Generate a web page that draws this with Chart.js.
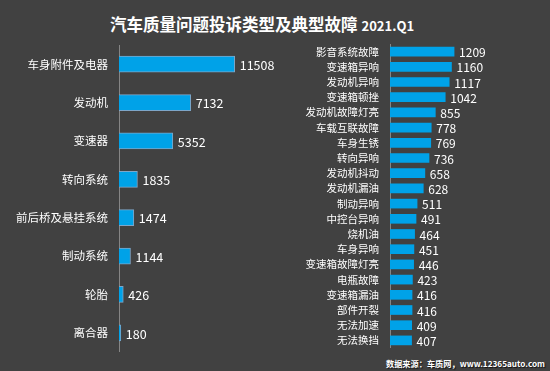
<!DOCTYPE html>
<html>
<head>
<meta charset="utf-8">
<script src="https://cdn.jsdelivr.net/npm/chart.js@4/dist/chart.umd.min.js"></script>
<style>
  html, body { margin: 0; padding: 0; }
  body { width: 550px; height: 371px; background: #414141; position: relative; overflow: hidden;
         font-family: "Microsoft YaHei", "Noto Sans CJK SC", sans-serif; color: #fff; }
  .title { position: absolute; left: 110px; top: 12px; font-size: 16.5px; font-weight: bold; white-space: nowrap; }
  .title span { font-size: 13px; margin-left: 4px; }
  .source { position: absolute; right: 5px; top: 357px; font-size: 8.2px; font-weight: bold;
            text-shadow: 1px 1px 1px #111; white-space: nowrap; }
  #leftBox { position: absolute; left: 0; top: 45px; width: 300px; height: 307px; }
  #rightBox { position: absolute; left: 300px; top: 44px; width: 249px; height: 304px; }
</style>
</head>
<body>
<div class="title">汽车质量问题投诉类型及典型故障<span>2021.Q1</span></div>
<div id="leftBox"><canvas id="leftChart"></canvas></div>
<div id="rightBox"><canvas id="rightChart"></canvas></div>
<div class="source">数据来源：车质网，www.12365auto.com</div>
<script>
const systemNames = ['车身附件及电器', '发动机', '变速器', '转向系统', '前后桥及悬挂系统', '制动系统', '轮胎', '离合器'];
const systemCounts = [11508, 7132, 5352, 1835, 1474, 1144, 426, 180];

const faultNames = ['影音系统故障', '变速箱异响', '发动机异响', '变速箱顿挫', '发动机故障灯亮', '车载互联故障',
  '车身生锈', '转向异响', '发动机抖动', '发动机漏油', '制动异响', '中控台异响', '烧机油', '车身异响',
  '变速箱故障灯亮', '电瓶故障', '变速箱漏油', '部件开裂', '无法加速', '无法换挡'];
const faultCounts = [1209, 1160, 1117, 1042, 855, 778, 769, 736, 658, 628, 511, 491, 464, 451, 446, 423, 416, 416, 409, 407];

const FONT = '"Microsoft YaHei", "Noto Sans CJK SC", sans-serif';

const valueLabels = {
  id: 'valueLabels',
  afterDatasetsDraw(chart, args, opts) {
    const ctx = chart.ctx
    const meta = chart.getDatasetMeta(0)
    ctx.save()
    ctx.fillStyle = '#ffffff'
    ctx.font = opts.size + 'px ' + FONT
    ctx.textBaseline = 'middle'
    ctx.textAlign = 'left'
    meta.data.forEach((bar, i) => {
      ctx.fillText(chart.data.datasets[0].data[i], bar.x + 5, bar.y + 1)
    })
    ctx.restore()
  }
}

function makeBars(canvas, labels, values, max, axisWidth, thickness, labelSize, valueSize, border) {
  return new Chart(canvas, {
    type: 'bar',
    data: {
      labels: labels,
      datasets: [{
        data: values,
        backgroundColor: '#00a2e8',
        borderColor: border ? '#7ea6c8' : '#00a2e8',
        borderWidth: border ? 1 : 0,
        barThickness: thickness
      }]
    },
    options: {
      indexAxis: 'y',
      responsive: true,
      maintainAspectRatio: false,
      animation: false,
      layout: { padding: 0 },
      plugins: {
        legend: { display: false },
        tooltip: { enabled: false },
        valueLabels: { size: valueSize }
      },
      scales: {
        x: { display: false, min: 0, max: max },
        y: {
          // fixed axis position, no extra room above/below the labels
          afterFit: scale => {
            scale.width = axisWidth
            scale.paddingTop = 0
            scale.paddingBottom = 0
          },
          grid: { display: false, drawTicks: false },
          border: { display: true, color: '#858585', width: 1 },
          ticks: { color: '#ffffff', padding: 11, autoSkip: false, font: { size: labelSize, family: FONT } }
        }
      }
    },
    plugins: [valueLabels]
  })
}

makeBars(document.getElementById('leftChart'), systemNames, systemCounts, 18000, 119, 16, 11.5, 12.5, true)
makeBars(document.getElementById('rightChart'), faultNames, faultCounts, 3000, 90, 9, 10.5, 12, false)
</script>
</body>
</html>
